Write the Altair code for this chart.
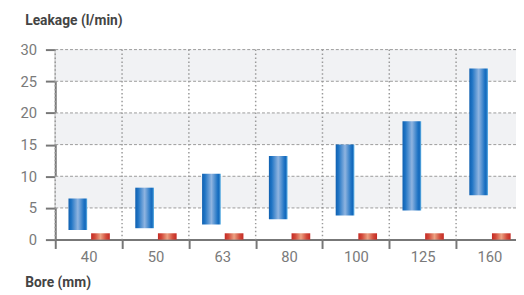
import altair as alt
import pandas as pd

# ---- data ----
bores = ["40", "50", "63", "80", "100", "125", "160"]
leak_low = [1.5, 1.8, 2.4, 3.2, 3.8, 4.6, 7.0]
leak_high = [6.5, 8.2, 10.4, 13.2, 15.0, 18.7, 27.0]
seal_low = [0, 0, 0, 0, 0, 0, 0]
seal_high = [1.0, 1.0, 1.0, 1.0, 1.0, 1.0, 1.0]
band_lo = [5, 15, 25]
band_hi = [10, 20, 30]
grid_y = [5, 10, 15, 20, 25, 30]
y_ticks = [0, 5, 10, 15, 20, 25, 30]

W, H = 475, 193
FONT = "Roboto"

df_blue = pd.DataFrame({"bore": bores, "lo": leak_low, "hi": leak_high})
df_red = pd.DataFrame({"bore": bores, "lo": seal_low, "hi": seal_high})
df_band = pd.DataFrame({"lo": band_lo, "hi": band_hi})
df_grid = pd.DataFrame({"lo": grid_y})
df_vgrid = pd.DataFrame({"bore": bores})

xscale = alt.Scale(domain=bores, paddingInner=0, paddingOuter=0)
yscale = alt.Scale(domain=[0, 30], nice=False, zero=True)

x_axis = alt.Axis(
    title="Bore (mm)", titleAngle=0, titleX=-31, titleY=48,
    titleAlign="left", titleBaseline="alphabetic",
    titleFont=FONT, titleFontSize=14, titleFontWeight="bold", titleColor="#444444",
    labelFont=FONT, labelFontSize=15, labelColor="#7a7a7a", labelAngle=0,
    labelPadding=1, tickSize=9, tickWidth=2, tickColor="#777777",
    tickBand="extent", domainColor="#777777", domainWidth=2, grid=False,
)
y_axis = alt.Axis(
    values=y_ticks, labelOverlap=False,
    title="Leakage (l/min)", titleAngle=0, titleX=-31, titleY=-26,
    titleAlign="left", titleBaseline="alphabetic",
    titleFont=FONT, titleFontSize=14, titleFontWeight="bold", titleColor="#444444",
    labelFont=FONT, labelFontSize=15, labelColor="#7a7a7a",
    labelPadding=9, tickSize=10, tickWidth=2, tickColor="#777777",
    domainColor="#777777", domainWidth=2, grid=False,
)

blue_grad = alt.Gradient(
    gradient="linear", x1=0, x2=1, y1=0, y2=0,
    stops=[
        alt.GradientStop(color="#1060b0", offset=0),
        alt.GradientStop(color="#1f74c4", offset=0.15),
        alt.GradientStop(color="#8fb4e0", offset=0.5),
        alt.GradientStop(color="#1f74c4", offset=0.82),
        alt.GradientStop(color="#1468bb", offset=0.9),
        alt.GradientStop(color="#66b8e8", offset=1),
    ],
)
red_grad = alt.Gradient(
    gradient="linear", x1=0, x2=1, y1=0, y2=0,
    stops=[
        alt.GradientStop(color="#c42a24", offset=0),
        alt.GradientStop(color="#d24a3a", offset=0.2),
        alt.GradientStop(color="#eca283", offset=0.5),
        alt.GradientStop(color="#d24a3a", offset=0.8),
        alt.GradientStop(color="#c42a24", offset=1),
    ],
)

bg = alt.Chart(df_band).mark_rect(color="#f1f2f4").encode(
    x=alt.value(0), x2=alt.value(W),
    y=alt.Y("lo:Q", scale=yscale, axis=y_axis), y2="hi:Q",
)

hgrid = alt.Chart(df_grid).mark_rule(color="#9a9a9a", strokeDash=[3, 2], strokeWidth=1).encode(
    x=alt.value(0), x2=alt.value(W),
    y=alt.Y("lo:Q", scale=yscale, axis=y_axis),
)

vgrid = alt.Chart(df_vgrid).mark_rule(color="#9a9a9a", strokeDash=[1.5, 2.5], strokeWidth=1.5).encode(
    x=alt.X("bore:N", scale=xscale, sort=bores, bandPosition=0, axis=x_axis),
    y=alt.value(0), y2=alt.value(H),
)

blue = alt.Chart(df_blue).mark_bar(color=blue_grad, width=19, xOffset=-11).encode(
    x=alt.X("bore:N", scale=xscale, sort=bores, axis=x_axis),
    y=alt.Y("lo:Q", scale=yscale, axis=y_axis),
    y2="hi:Q",
)

red = alt.Chart(df_red).mark_bar(color=red_grad, width=19, xOffset=12).encode(
    x=alt.X("bore:N", scale=xscale, sort=bores, axis=x_axis),
    y=alt.Y("lo:Q", scale=yscale, axis=y_axis),
    y2="hi:Q",
)

chart = (
    alt.layer(bg, hgrid, vgrid, blue, red)
    .properties(
        width=W, height=H,
        autosize=alt.AutoSizeParams(type="none"),
        padding={"left": 48, "top": 40, "right": -7, "bottom": 54},
    )
    .configure_view(stroke=None)
)

chart.save("out.html", embed_options={"renderer": "svg", "actions": False})
